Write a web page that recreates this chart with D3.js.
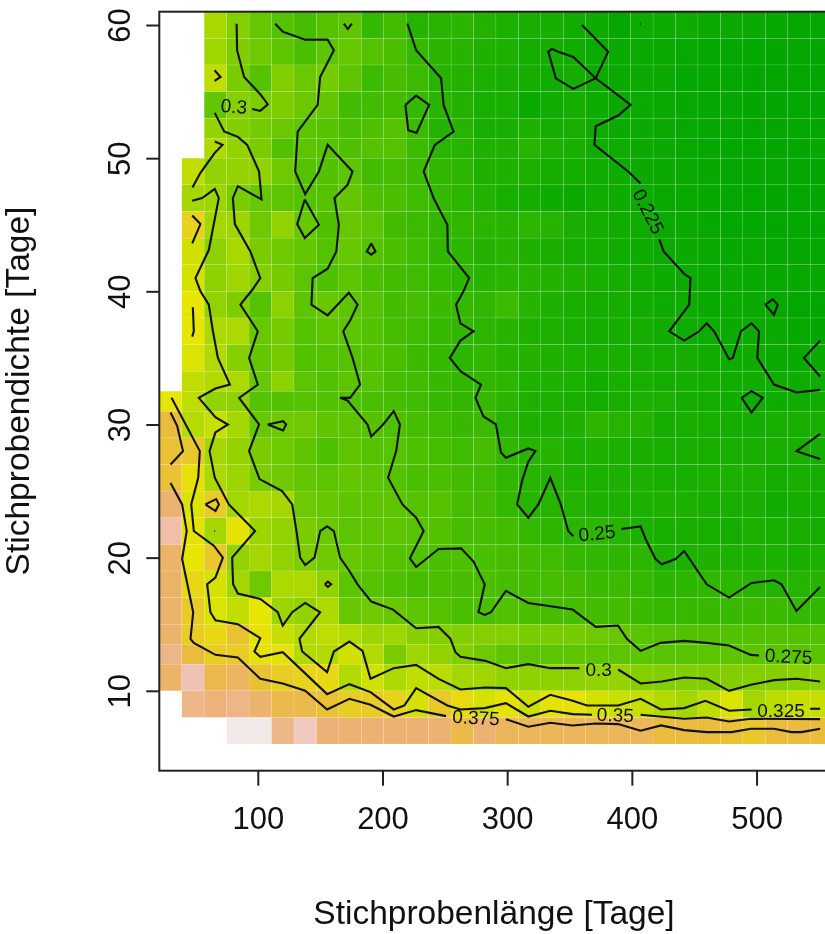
<!DOCTYPE html>
<html>
<head>
<meta charset="utf-8">
<script src="https://d3js.org/d3.v7.min.js"></script>
<style>
  body { margin: 0; background: #fff; overflow: hidden; }
  text { font-family: "Liberation Sans", Arial, sans-serif; fill: #111; }
  svg { filter: blur(0.4px); }
</style>
</head>
<body>
<div class="chart"></div>
<script>
// sample length (x) and sample density (y) of the grid
var lengths = [30, 48, 66, 84, 102, 120, 138, 156, 174, 192, 210, 228, 246, 264, 282, 300, 318, 336, 354, 372, 390, 408, 426, 444, 462, 480, 498, 516, 534, 552];
var densities = [60, 58, 56, 54, 52, 51, 49, 47, 45, 43, 41, 39, 37, 35, 33, 32, 30, 28, 26, 24, 22, 20, 18, 16, 14, 13, 11, 9, 7];
var xTicks = [100, 200, 300, 400, 500];
var yTicks = [10, 20, 30, 40, 50, 60];

// cell values in thousandths, one row per density
var n = null;
var cellValues = [
  [n,n,302,283,267,258,250,258,264,240,248,232,233,234,230,226,225,223,220,218,213,218,218,218,216,215,215,214,213,213],
  [n,n,298,280,272,262,252,262,268,258,252,240,235,232,228,226,222,222,220,216,216,216,216,214,213,213,213,212,212,212],
  [n,n,312,278,258,282,270,275,262,245,250,244,232,230,226,224,222,220,222,217,215,216,216,213,213,213,212,212,212,212],
  [n,n,266,285,280,280,270,266,248,247,248,240,233,230,224,224,216,220,222,218,215,216,215,214,213,213,212,212,212,212],
  [n,n,292,282,275,270,262,258,252,255,258,244,230,232,224,224,228,222,223,218,216,216,215,214,213,212,212,212,212,212],
  [n,n,305,292,278,256,262,260,255,258,258,244,234,232,228,228,232,226,224,220,218,217,216,214,213,213,213,212,212,214],
  [n,312,290,292,290,272,258,256,262,248,250,245,238,236,228,228,226,222,222,220,218,217,216,215,214,213,213,213,212,212],
  [n,300,296,278,268,262,258,258,266,255,252,246,240,236,230,224,222,218,217,220,218,216,215,215,214,213,213,212,212,212],
  [n,345,300,296,272,290,268,255,268,262,248,244,238,238,234,232,236,232,225,222,220,218,216,215,214,213,213,212,212,212],
  [n,320,288,302,278,272,266,258,268,258,252,246,238,236,230,232,228,225,222,222,220,218,217,216,215,214,214,213,213,213],
  [n,322,288,298,284,276,262,254,262,252,248,246,240,236,232,234,232,230,228,224,222,220,218,217,216,216,215,214,214,214],
  [n,330,290,280,258,288,262,268,262,258,248,250,244,240,238,245,232,226,224,222,222,220,218,218,216,216,215,214,212,212],
  [n,330,303,303,268,276,258,262,262,256,250,246,240,238,236,232,228,226,224,222,222,222,220,218,218,217,216,216,214,212],
  [n,325,306,285,266,276,256,258,258,256,252,244,240,236,238,232,230,228,226,224,224,222,222,222,220,218,218,216,216,216],
  [n,312,306,303,268,288,262,256,262,258,250,248,242,238,238,236,228,228,226,220,224,224,222,222,222,220,220,220,218,218],
  [330,312,290,288,258,256,258,256,256,252,250,246,240,238,240,234,228,226,224,222,224,226,226,222,222,220,218,218,220,220],
  [362,308,316,300,268,272,272,264,262,258,254,250,246,242,244,232,228,226,228,236,232,230,222,224,224,222,222,224,224,224],
  [358,353,300,292,278,272,264,254,264,258,260,254,250,246,250,238,232,232,226,228,226,225,224,224,224,224,224,224,224,222],
  [358,335,303,296,278,272,266,262,266,262,258,252,252,248,246,238,232,230,228,226,226,226,224,224,226,226,226,222,224,222],
  [388,325,350,300,303,300,272,268,264,262,262,258,258,250,248,240,232,232,230,228,226,226,228,226,224,224,224,220,222,222],
  [415,332,300,332,296,290,278,270,262,262,262,260,256,250,250,248,240,236,234,236,232,226,224,224,224,222,226,224,224,222],
  [382,330,352,290,300,290,280,272,268,262,258,256,252,254,252,250,248,246,240,238,236,236,226,226,228,226,226,226,224,226],
  [384,340,322,300,272,303,303,290,262,258,254,250,252,250,252,250,248,250,248,244,244,240,234,236,238,236,232,230,232,232],
  [384,350,325,313,330,296,290,303,268,272,268,262,258,252,252,256,252,250,250,248,248,244,240,242,242,242,244,244,240,238],
  [384,348,340,356,332,316,306,312,306,296,297,285,283,282,284,284,278,278,276,272,268,260,258,256,256,256,256,256,256,256],
  [398,362,348,350,332,334,306,306,320,306,278,298,290,282,272,264,262,262,264,262,262,262,260,260,262,262,262,260,260,260],
  [383,420,370,380,356,348,345,340,306,320,303,312,310,300,298,290,288,288,288,290,292,284,282,282,280,282,284,284,286,288],
  [n,400,392,398,385,368,368,356,348,350,345,322,352,338,322,332,318,332,334,322,318,316,306,300,312,325,300,310,316,316],
  [n,n,n,445,445,398,425,390,388,388,388,388,388,368,388,376,376,376,376,376,376,376,362,362,360,358,352,360,362,360]
];

// contour lines in data units, [length, density]
var contour225 = [
  [[360,60],[381,58],[371,56],[353,55.2],[339,56],[333,58],[336,58.2],[341,58],[353,57.6],[371,56],[399,54],[389,53.2],[371,52.4],[370,51],[389,49.6],[397,49],[407,48.1]],
  [[422,43.9],[425.5,43],[442,41.3],[447,41],[446,39],[430,37],[442,36.3],[454,37],[460,37.6],[466,37],[478,34.9],[481,35],[487.5,37],[496,37.6],[502,37],[500.6,35],[514,33],[532,32.4],[551,32.6]],
  [[507,39],[513,39.4],[517,39],[514,38.25],[507,39]],
  [[488,32],[496,32.5],[505,32],[496,30.9],[488,32]],
  [[551,36.3],[538,35],[551,33.6]],
  [[551,29.3],[532,28],[551,27.4]],
  [[406.5,60.1],[407.2,60.1]]
];
var contour25 = [
  [[220,60.1],[227,58.1],[247,56],[249,54],[257,52],[242,51],[233,49],[241,47],[252,45],[252.4,43],[269.5,41],[265,40],[259,39],[262.5,37.6],[273,37],[262.5,36.3],[254,35],[262.5,34],[279,33],[274.6,32],[281,30.6],[291,30],[295,27.9],[299,27.5],[317,28.2],[322.6,28],[317,27.2],[312,25.8],[308,24],[317,23],[325,24],[334.6,26],[343,24],[349,22],[353,21.6]],
  [[391.6,22.15],[407,22.35],[411,21.4],[419,19.9],[424,19.5],[435,19.9],[442,20.5],[460,18],[478,17],[496,18.1],[514,18.3],[520,18],[532,16],[551,17.8]],
  [[218.4,54],[227,54.7],[237.4,54],[227.3,51.9],[220.6,52.1],[218.4,54]]
];
var contour275 = [
  [[114,60.1],[120,59.5],[138,58.9],[156,58.9],[161,58.1],[150,56.1],[148,54],[132,52],[130,49],[138,47.3],[149,49],[156,51],[176,49],[172,48],[161.5,47],[165,45],[163,43],[156,41.7],[144,41],[143,39],[156,38.2],[173,39.9],[180,39],[174,37.8],[168.5,37],[176,35],[182,33],[174,32],[166,32],[172,31.8],[188,30],[191,29.1],[200.5,30],[209,31],[214,30],[211,28],[204.5,26],[216,24],[227,23],[233,22],[222,19.95],[227,19.3],[245,20.65],[263,20.7],[273,19.7],[282,18],[277,15.9],[282,15.7],[287,15.9],[299,17.5],[317,16.6],[352.5,16.1],[371,14.8],[389,14.9],[396,13.9],[407,13],[423,13.6],[442,13.75],[460,13.6],[478,13.4],[495.5,12.7],[502,12.65]],
  [[169,60.1],[172.2,59.7],[175.4,60.1]],
  [[137.7,46.9],[149,45],[137.7,44],[131.6,45.05],[137.7,46.9]],
  [[191,43.6],[194.4,43],[191,42.75],[187.4,43],[191,43.6]],
  [[108,30],[120.3,30.25],[122.7,30],[120.3,29.55],[108,30]],
  [[153.8,18],[156.2,18.2],[158.8,18],[156.2,17.8],[153.8,18]]
];
var contour3 = [
  [[83,60.1],[83.4,58.1],[89,56.1],[102,54.8],[108,54.05],[102,53.55],[95.5,53.7]],
  [[65.5,53.4],[73,52],[84,51.6],[91.5,51],[101,49],[103,46.9],[84,47.9],[80,47],[81.6,45.05],[94,43],[102,41],[95.5,40.1],[86,39],[100,37],[93,35],[100,33],[85,32],[101,30],[93,28],[101.4,25.9],[119.5,25],[127.6,24],[131,22],[134,20],[138,19.45],[145.5,20],[150,22],[155.6,22.35],[161,22],[166,20],[173.5,19],[180,18],[191,16.7],[208.5,16.1],[227,14.7],[245,14.8],[254.5,13.9],[258.5,12.9],[262.5,12.55],[282.5,12.25],[299,11.7],[317,12],[334.6,11.7],[358,11.7]],
  [[389,11.6],[407,10.55],[424,10.7],[442,11],[460,10.9],[478,10],[495.5,10.45],[514,10.8],[532,10.9],[551,10.7]],
  [[65.3,56.6],[70.1,56.1],[65.3,55.8]]
];
var contour325 = [
  [[47.6,47.8],[54,48.9],[65.5,50.4],[71.7,51],[65.5,51.25]],
  [[47.4,46.8],[55.4,47],[65.5,47.7],[68.7,47],[60.7,43.1],[50,41],[54,40],[60.7,39],[64,37],[68,35],[77.6,33],[66,32.7],[52.7,32],[66,30.55],[76,30],[66,29.4],[61.3,28],[65.5,26],[76.8,24],[97.8,22],[79.4,20],[80.2,18],[84,17.3],[102,16.9],[116,15.9],[120,14.9],[127.6,15.9],[138,16.6],[150,15.9],[133.4,13.9],[135.6,12.95],[155.6,11.4],[161,12.95],[173.5,13.7],[184,13],[190.4,10.9],[209,11.7],[227,11.95],[245,10.9],[262.5,10.1],[282.5,10.25],[299,10.2],[317,8.8],[334.6,9.7],[352.5,9.25],[364,8.9],[389,8.9],[407,9.4],[423.4,8.6],[442,8.7],[459,9.25],[478,8.5],[496,8.6]],
  [[543,8.65],[551,8.65]],
  [[47.4,45.7],[54,45.05],[47.4,43.6]],
  [[47.9,38.8],[48.7,37],[47.4,36.6]],
  [[58,24],[66.6,24.4],[68.8,24],[66.1,23.5],[58,24]],
  [[65.2,22],[65.8,22]]
];
var contour35 = [
  [[30.8,32],[53.5,28],[52.2,26],[46.6,24],[48.7,22],[64.7,20.9],[72,20],[66,18.5],[59.4,18],[62,15.9],[66,15.3],[84,15],[102,13.95],[97.3,12.95],[102,12.55],[120,12.9],[155.6,9.75],[173.5,10.5],[190.4,9.9],[209,8.6],[217.6,8.9],[227,10.2],[252,8.9],[262.5,8.6],[282,8.7],[299,9.07],[317,8.07],[334.6,8.5],[352.5,8.25],[368,8.2]],
  [[407,8.2],[442,7.9],[460,8],[478,7.7],[495.5,7.9],[551,7.87]]
];
var contour375 = [
  [[30,25.6],[39.3,24],[43,22],[39.3,19.9],[48.2,15.9],[46,13.9],[48.7,13.6],[66,12.7],[84,12.5],[102,10.9],[120,10.55],[138,10],[155.6,8.6],[173.5,9.4],[190.4,8.95],[209,8.07],[227,8.55],[251,8.1]],
  [[299,7.87],[317,7.3],[334.6,7.6],[352.5,7.4],[371,7.55],[389,7.5],[407,7],[423.4,7.4],[442,7.05],[460,6.9],[480,6.9],[495.5,7.15],[514,7.15],[528,6.9],[536,6.9],[551,7.15]],
  [[30,30.9],[35.3,29.9],[40,28],[30,27]]
];

// contour labels: text, length, density, tilt
var labelTexts = ["0.225", "0.25", "0.275", "0.3", "0.3", "0.325", "0.35", "0.375"];
var labelX = [413.5, 372, 525.7, 80.8, 373.4, 519.6, 386.7, 275];
var labelY = [46, 21.85, 12.6, 53.9, 11.6, 8.57, 8.2, 8];
var labelTilt = [63, -6, 3, 5, 0, 0, 2, 3];

var svgWidth = 825;
var svgHeight = 934;

var margin = { top: 11.7, right: -7.6, bottom: 163.3, left: 159.3 };
var width = svgWidth - margin.left - margin.right;
var height = svgHeight - margin.top - margin.bottom;

var svg = d3.select(".chart")
  .append("svg")
  .attr("width", svgWidth)
  .attr("height", svgHeight)
  .style("display", "block");

var chartGroup = svg.append("g")
  .attr("transform", `translate(${margin.left}, ${margin.top})`);

var xScale = d3.scaleLinear().domain([21, 561]).range([0, width]);
var yScale = d3.scaleLinear().domain([4, 61]).range([height, 0]);

// terrain colours, same stops as R's terrain.colors
var colorScale = d3.scaleLinear()
  .domain([210, 236, 266, 298, 330, 360, 390, 420, 450])
  .range(["#00A600", "#2DB600", "#63C600", "#A0D600", "#E6E600", "#E9BD3A", "#ECB176", "#EFC2B3", "#F2F2F2"])
  .clamp(true);

// cell edges sit halfway between neighbouring grid values
function yEdges(i) {
  var top = i == 0 ? 61 : (densities[i - 1] + densities[i]) / 2;
  var bottom = i == densities.length - 1 ? 6 : (densities[i + 1] + densities[i]) / 2;
  return [top, bottom];
}

var cells = [];
cellValues.forEach(function(row, i) {
  row.forEach(function(value, j) {
    if (value !== null) cells.push({ x: lengths[j], rowIndex: i, value: value });
  });
});

// small gap between the cells, it gives the light seams of the raster
var seam = 0.1;

chartGroup.selectAll(".cell")
  .data(cells)
  .enter()
  .append("rect")
  .attr("class", "cell")
  .attr("x", d => xScale(d.x - 9) + seam)
  .attr("width", d => xScale(d.x + 9) - xScale(d.x - 9) - 2 * seam)
  .attr("y", d => yScale(yEdges(d.rowIndex)[0]) + seam)
  .attr("height", d => yScale(yEdges(d.rowIndex)[1]) - yScale(yEdges(d.rowIndex)[0]) - 2 * seam)
  .attr("fill", d => colorScale(d.value));

// contours
var line = d3.line()
  .x(d => xScale(d[0]))
  .y(d => yScale(d[1]));

var allContours = [].concat(contour225, contour25, contour275, contour3, contour325, contour35, contour375);

chartGroup.selectAll(".contour")
  .data(allContours)
  .enter()
  .append("path")
  .attr("class", "contour")
  .attr("d", line)
  .attr("fill", "none")
  .attr("stroke", "#111")
  .attr("stroke-width", 2.1)
  .attr("stroke-linejoin", "miter");

chartGroup.selectAll(".contourLabel")
  .data(labelTexts)
  .enter()
  .append("text")
  .attr("class", "contourLabel")
  .attr("transform", (d, i) => `translate(${xScale(labelX[i])}, ${yScale(labelY[i])}) rotate(${labelTilt[i]})`)
  .attr("text-anchor", "middle")
  .attr("dy", "0.35em")
  .style("font-size", "19px")
  .text(d => d);

// box
chartGroup.append("rect")
  .attr("x", 0)
  .attr("y", 0)
  .attr("width", width)
  .attr("height", height)
  .attr("fill", "none")
  .attr("stroke", "#222")
  .attr("stroke-width", 2);

// axes
var bottomAxis = d3.axisBottom(xScale).tickValues(xTicks).tickSize(15).tickSizeOuter(0);
var leftAxis = d3.axisLeft(yScale).tickValues(yTicks).tickSize(13).tickSizeOuter(0);

var xAxisGroup = chartGroup.append("g")
  .attr("transform", `translate(0, ${height})`)
  .call(bottomAxis);

var yAxisGroup = chartGroup.append("g")
  .call(leftAxis);

[xAxisGroup, yAxisGroup].forEach(function(axis) {
  axis.select(".domain").remove();
  axis.selectAll("line").attr("stroke", "#222").attr("stroke-width", 2);
  axis.selectAll("text").style("font-size", "31px").attr("fill", "#111");
});

xAxisGroup.selectAll("text").attr("y", 0).attr("dy", 0).attr("transform", "translate(0, 58)");

yAxisGroup.selectAll("text")
  .attr("x", 0)
  .attr("dy", 0)
  .attr("text-anchor", "middle")
  .attr("transform", "translate(-29.5, 0) rotate(-90)");

// axis labels
svg.append("text")
  .attr("x", 494)
  .attr("y", 924)
  .attr("text-anchor", "middle")
  .style("font-size", "33.5px")
  .text("Stichprobenlänge [Tage]");

svg.append("text")
  .attr("transform", "translate(29, 391) rotate(-90)")
  .attr("text-anchor", "middle")
  .style("font-size", "33.5px")
  .text("Stichprobendichte [Tage]");
</script>
</body>
</html>
